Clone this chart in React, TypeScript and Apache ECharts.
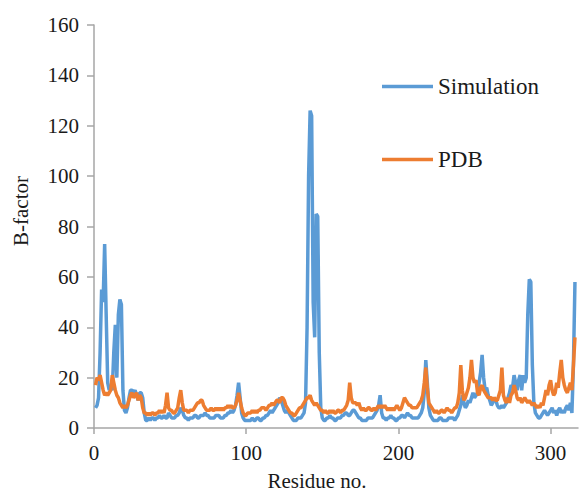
import React, { useEffect, useRef } from "react";
import * as echarts from "echarts";

const simulation: number[] = [
  8, 9, 12, 30, 55, 50, 73, 45, 18, 15,
  16, 15, 30, 41, 20, 45, 51, 49, 15, 7,
  6, 8, 12, 15, 15, 14, 15, 13, 11, 14,
  14, 12, 6, 3, 3, 4, 3, 4, 4, 3,
  4, 4, 5, 4, 4, 5, 4, 4, 6, 5,
  4, 4, 4, 5, 5, 6, 8, 7, 5, 4,
  4, 3, 4, 4, 4, 5, 5, 4, 4, 5,
  5, 5, 6, 5, 5, 4, 4, 4, 4, 5,
  5, 5, 4, 4, 4, 5, 5, 6, 6, 7,
  6, 7, 9, 13, 18, 12, 6, 4, 3, 3,
  3, 3, 3, 4, 3, 3, 4, 4, 3, 3,
  4, 4, 5, 5, 6, 7, 6, 7, 8, 9,
  10, 12, 11, 9, 7, 6, 7, 6, 5, 4,
  3, 3, 3, 4, 4, 4, 5, 6, 10, 40,
  100, 126, 124, 50, 36, 85, 84, 30, 8, 4,
  3, 3, 4, 4, 5, 4, 4, 3, 3, 4,
  4, 4, 5, 5, 6, 6, 5, 5, 6, 7,
  7, 6, 5, 4, 4, 3, 3, 3, 3, 4,
  4, 4, 4, 5, 6, 7, 9, 13, 6, 4,
  4, 3, 4, 4, 5, 4, 4, 3, 3, 4,
  4, 5, 5, 4, 5, 6, 5, 5, 4, 4,
  4, 4, 4, 5, 6, 8, 14, 27, 18, 8,
  5, 4, 3, 3, 3, 3, 4, 4, 3, 3,
  3, 3, 4, 4, 4, 4, 3, 4, 5, 7,
  9, 13, 10, 8, 9, 11, 10, 12, 14, 12,
  13, 14, 18, 22, 29, 20, 15, 16, 13, 11,
  9, 10, 12, 11, 9, 8, 8, 9, 8, 9,
  10, 12, 14, 17, 16, 21, 18, 15, 19, 21,
  15, 21, 18, 20, 45, 59, 58, 25, 10, 6,
  5, 4, 4, 5, 6, 7, 6, 5, 6, 7,
  8, 6, 7, 5, 7, 8, 6, 7, 6, 8,
  9, 7, 10, 6, 25, 58,
];

const pdb: number[] = [
  17, 20, 19, 21, 18, 15, 13, 14, 13, 14,
  15, 21, 18, 15, 13, 12, 10, 9, 8, 9,
  8, 9, 11, 13, 14, 12, 13, 14, 11, 13,
  12, 8, 6, 6, 5, 6, 5, 6, 6, 5,
  6, 6, 7, 6, 7, 6, 9, 14, 8, 7,
  7, 6, 6, 7, 8, 12, 15, 10, 7, 7,
  7, 6, 7, 7, 7, 8, 9, 10, 10, 11,
  11, 9, 8, 7, 7, 7, 8, 7, 7, 8,
  7, 8, 7, 8, 7, 8, 8, 9, 8, 9,
  8, 8, 9, 11, 14, 11, 8, 6, 5, 5,
  6, 6, 6, 7, 6, 7, 6, 7, 7, 8,
  8, 8, 7, 8, 9, 9, 10, 9, 10, 11,
  11, 10, 12, 12, 11, 9, 8, 7, 6, 6,
  5, 5, 6, 7, 8, 8, 9, 10, 11, 12,
  12, 13, 11, 10, 9, 10, 9, 8, 7, 7,
  6, 7, 6, 6, 7, 6, 7, 6, 6, 7,
  7, 6, 7, 7, 8, 9, 11, 18, 12, 10,
  10, 10, 9, 10, 8, 7, 8, 7, 7, 8,
  8, 7, 7, 8, 7, 8, 9, 8, 9, 8,
  9, 8, 7, 8, 7, 8, 7, 8, 9, 8,
  7, 8, 10, 12, 11, 10, 9, 9, 8, 8,
  8, 8, 9, 10, 11, 13, 18, 24, 16, 10,
  9, 8, 7, 6, 7, 6, 6, 7, 7, 6,
  7, 8, 7, 7, 6, 7, 8, 8, 10, 14,
  25, 15, 11, 12, 14, 16, 20, 27, 20, 18,
  19, 14, 13, 16, 17, 15, 14, 13, 12, 12,
  12, 11, 12, 11, 11, 13, 15, 24, 13, 11,
  10, 12, 10, 13, 14, 17, 15, 12, 11, 12,
  10, 11, 12, 11, 10, 11, 10, 9, 10, 9,
  8, 9, 8, 10, 9, 12, 15, 13, 17, 19,
  15, 13, 14, 18, 16, 22, 27, 20, 17, 15,
  14, 16, 18, 15, 25, 36,
];

const xTicks = [0, 100, 200, 300];
const seriesNames = ["Simulation", "PDB"];
const xAxisTitle = "Residue no.";
const yAxisTitle = "B-factor";

const FONT = "'Liberation Serif', 'Times New Roman', serif";

export default function App() {
  const ref = useRef<HTMLDivElement>(null);
  useEffect(() => {
    document.body.style.margin = "0";
    if (!ref.current) return;
    const chart = echarts.init(ref.current, undefined, { renderer: "svg" });
    const toPairs = (arr: number[]) => arr.map((v, i) => [i + 1, v]);
    chart.setOption({
      animation: false,
      backgroundColor: "#ffffff",
      grid: { left: 94, right: 2, top: 25, bottom: 65 },
      legend: {
        orient: "vertical",
        left: 377,
        top: 70,
        itemGap: 50,
        itemWidth: 51,
        itemHeight: 3.5,
        icon: "rect",
        textStyle: { fontFamily: FONT, fontSize: 23, color: "#1a1a1a" },
        data: seriesNames,
      },
      xAxis: {
        type: "value",
        min: 0,
        max: 318,
        interval: 100,
        splitLine: { show: false },
        axisLine: { lineStyle: { color: "#a6a6a6", width: 1.5 } },
        axisTick: { show: true, length: 6, customValues: xTicks, lineStyle: { color: "#a6a6a6", width: 1.5 } },
        axisLabel: {
          customValues: xTicks,
          margin: 14,
          fontFamily: FONT,
          fontSize: 21,
          color: "#1a1a1a",
        },
      },
      yAxis: {
        type: "value",
        min: 0,
        max: 160,
        interval: 20,
        splitLine: { show: false },
        axisLine: { show: true, lineStyle: { color: "#a6a6a6", width: 1.5 } },
        axisTick: { show: true, length: 7, lineStyle: { color: "#a6a6a6", width: 1.5 } },
        axisLabel: { margin: 15, fontFamily: FONT, fontSize: 21, color: "#1a1a1a" },
      },
      graphic: [
        {
          type: "text",
          x: 317,
          y: 481,
          style: {
            text: xAxisTitle,
            font: `21px ${FONT}`,
            fill: "#1a1a1a",
            textAlign: "center",
            textVerticalAlign: "middle",
          },
        },
        {
          type: "text",
          x: 21,
          y: 211,
          rotation: Math.PI / 2,
          style: {
            text: yAxisTitle,
            font: `21px ${FONT}`,
            fill: "#1a1a1a",
            textAlign: "center",
            textVerticalAlign: "middle",
          },
        },
      ],
      series: [
        {
          name: seriesNames[0],
          type: "line",
          data: toPairs(simulation),
          showSymbol: false,
          symbol: "none",
          lineStyle: { color: "#5b9bd5", width: 3.5 },
          itemStyle: { color: "#5b9bd5" },
        },
        {
          name: seriesNames[1],
          type: "line",
          data: toPairs(pdb),
          showSymbol: false,
          symbol: "none",
          lineStyle: { color: "#ed7d31", width: 3.5 },
          itemStyle: { color: "#ed7d31" },
        },
      ],
    });
    return () => chart.dispose();
  }, []);
  return <div ref={ref} style={{ width: 580, height: 493 }} />;
}
